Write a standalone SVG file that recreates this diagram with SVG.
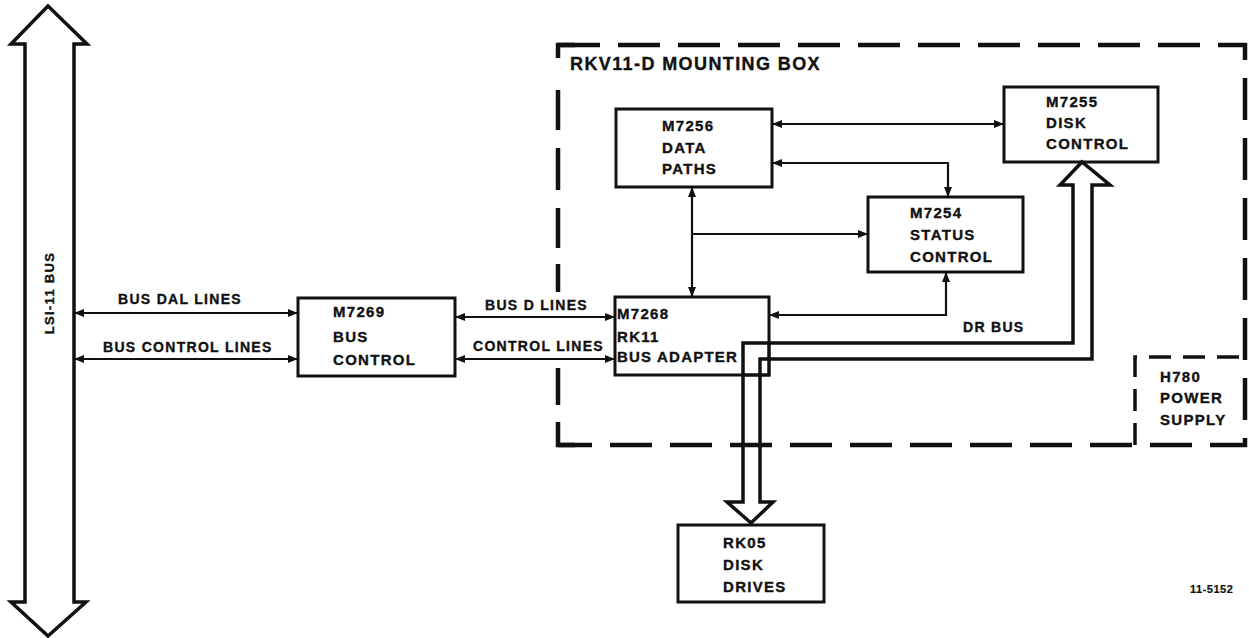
<svg xmlns="http://www.w3.org/2000/svg" width="1249" height="638" viewBox="0 0 1249 638">
<style>
.box{fill:#fff;stroke:#111;stroke-width:3}
.ln{fill:none;stroke:#111;stroke-width:2.2}
.wide{fill:none;stroke:#111;stroke-width:3.5;stroke-linejoin:miter}
.dash{fill:none;stroke:#111;stroke-width:4.5;stroke-dasharray:42 18}
.solid{fill:none;stroke:#111;stroke-width:4.5}
.dash2{fill:none;stroke:#111;stroke-width:3.5;stroke-dasharray:22 12}
text{font-family:"Liberation Sans",Arial,sans-serif;font-weight:bold;fill:#111;stroke:#111;stroke-width:0.35}
.t{font-size:15px;letter-spacing:1.3px}
.l{font-size:14px;letter-spacing:1.3px}
</style>
<defs>
<marker id="ah" viewBox="0 0 10 8" markerUnits="userSpaceOnUse" markerWidth="10" markerHeight="8" refX="10" refY="4" orient="auto-start-reverse">
<path d="M0,0 L10,4 L0,8 z" fill="#111"/>
</marker>
</defs>

<g id="lsi11-bus">
<polygon class="wide" points="48,6 87,44 74,44 74,602 86,602 48,636 11,602 25,602 25,44 11,44"/>
<text class="l" transform="translate(54,293) rotate(-90)" text-anchor="middle" style="font-size:13px">LSI-11 BUS</text>
</g>

<g id="mounting-box">
<path class="dash" d="M558,45 L1245,45 L1245,445 L558,445"/>
<path class="solid" d="M558,58 L558,45 L575,45 M558,90 L558,130 M558,148 L558,190 M558,208 L558,248 M558,264 L558,292 M558,368 L558,405 M558,422 L558,445 L575,445"/>
<text x="570" y="70" style="font-size:18px;letter-spacing:1.4px">RKV11-D MOUNTING BOX</text>
</g>

<g id="h780">
<path class="dash2" d="M1135,445 L1135,357 L1245,357"/>
<text class="t" x="1160" y="382">H780</text>
<text class="t" x="1160" y="403">POWER</text>
<text class="t" x="1160" y="425">SUPPLY</text>
</g>

<g id="m7269">
<rect class="box" x="298" y="298" width="157" height="78"/>
<text class="t" x="333" y="317">M7269</text>
<text class="t" x="333" y="342">BUS</text>
<text class="t" x="333" y="365">CONTROL</text>
</g>

<g id="m7268">
<rect class="box" x="615" y="297" width="154" height="78"/>
<text class="t" x="617" y="319">M7268</text>
<text class="t" x="617" y="342">RK11</text>
<text class="t" x="617" y="362" style="letter-spacing:1.2px">BUS ADAPTER</text>
</g>

<g id="m7256">
<rect class="box" x="616" y="109" width="156" height="78"/>
<text class="t" x="662" y="131">M7256</text>
<text class="t" x="662" y="153">DATA</text>
<text class="t" x="662" y="174">PATHS</text>
</g>

<g id="m7254">
<rect class="box" x="868" y="197" width="155" height="75"/>
<text class="t" x="910" y="218">M7254</text>
<text class="t" x="910" y="240">STATUS</text>
<text class="t" x="910" y="262">CONTROL</text>
</g>

<g id="m7255">
<rect class="box" x="1004" y="87" width="154" height="75"/>
<text class="t" x="1046" y="107">M7255</text>
<text class="t" x="1046" y="128">DISK</text>
<text class="t" x="1046" y="149">CONTROL</text>
</g>

<g id="rk05">
<rect class="box" x="678" y="525" width="146" height="77"/>
<text class="t" x="723" y="548">RK05</text>
<text class="t" x="723" y="570">DISK</text>
<text class="t" x="723" y="592">DRIVES</text>
</g>

<g id="connectors">
<line class="ln" x1="74" y1="313" x2="298" y2="313" marker-start="url(#ah)" marker-end="url(#ah)"/>
<line class="ln" x1="74" y1="359" x2="298" y2="359" marker-start="url(#ah)" marker-end="url(#ah)"/>
<line class="ln" x1="455" y1="317" x2="615" y2="317" marker-start="url(#ah)" marker-end="url(#ah)"/>
<line class="ln" x1="455" y1="359" x2="615" y2="359" marker-start="url(#ah)" marker-end="url(#ah)"/>
<line class="ln" x1="692" y1="187" x2="692" y2="297" marker-start="url(#ah)" marker-end="url(#ah)"/>
<line class="ln" x1="692" y1="234" x2="868" y2="234" marker-end="url(#ah)"/>
<line class="ln" x1="772" y1="124" x2="1004" y2="124" marker-start="url(#ah)" marker-end="url(#ah)"/>
<polyline class="ln" points="772,163 948,163 948,197" marker-start="url(#ah)" marker-end="url(#ah)"/>
<polyline class="ln" points="946,272 946,315 769,315" marker-start="url(#ah)" marker-end="url(#ah)"/>
<polygon class="wide" points="743,502 743,343 1073,343 1073,185 1060,185 1082,162 1110,185 1092,185 1092,359 760,359 760,502 773,502 751,523 727,502"/>
<path class="ln" style="stroke-width:3" d="M769,343 L769,375 L743,375"/>
<text class="l" x="118" y="304">BUS DAL LINES</text>
<text class="l" x="103" y="352">BUS CONTROL LINES</text>
<text class="l" x="485" y="310">BUS D LINES</text>
<text class="l" x="473" y="351">CONTROL LINES</text>
<text class="l" x="963" y="332">DR BUS</text>
<text x="1190" y="593" style="font-size:11px;letter-spacing:0.5px;stroke-width:0.2">11-5152</text>
</g>
</svg>
